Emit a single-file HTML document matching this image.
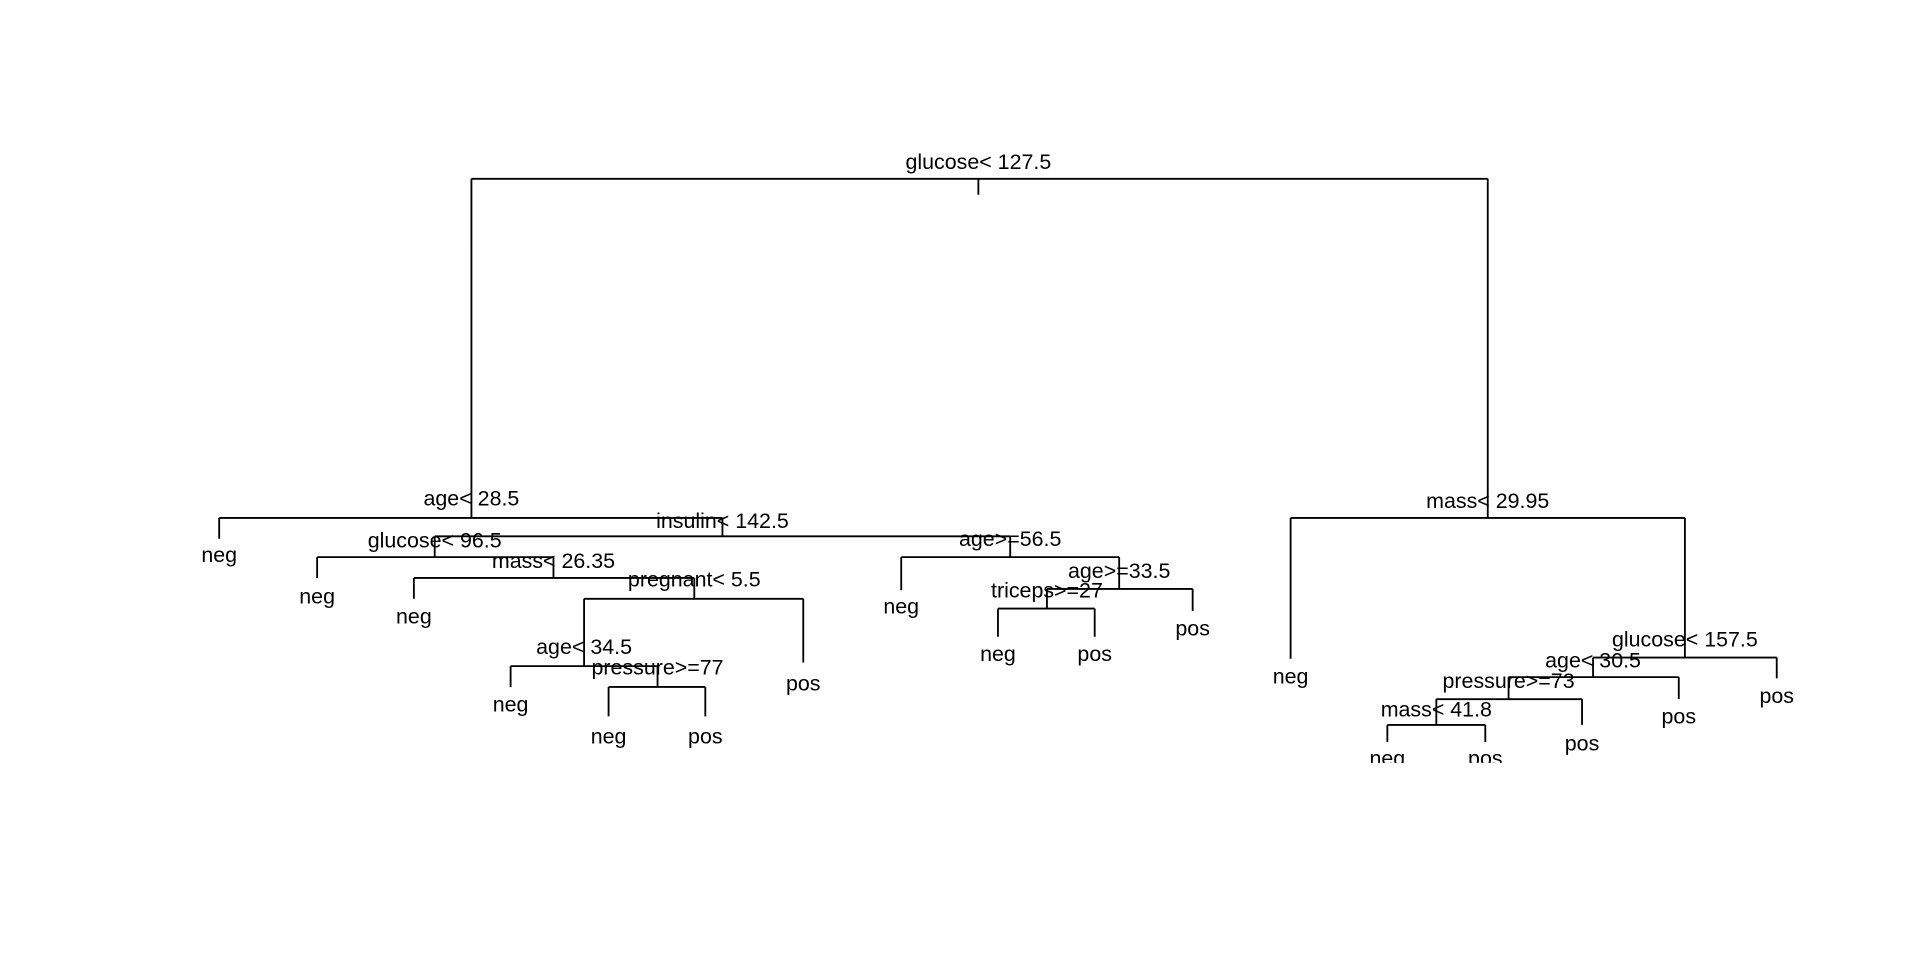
<!DOCTYPE html>
<html><head><meta charset="utf-8"><style>
html,body{margin:0;padding:0;background:#fff;width:1920px;height:960px;overflow:hidden}
svg text{font-family:"Liberation Sans",Arial,sans-serif;font-size:17.5px;fill:#000;text-anchor:middle}
</style></head><body>
<svg width="1920" height="960" viewBox="0 0 1568 784" xmlns="http://www.w3.org/2000/svg">
<defs><clipPath id="c"><rect x="0" y="125" width="1568" height="498"/></clipPath></defs>
<g clip-path="url(#c)">
<g stroke="#000" stroke-width="1.5" fill="none">
<path d="M385 146H1215M799 146V159M385 146V423M1215 146V423"/>
<path d="M179 423H590M179 423V440M590 423V438"/>
<path d="M355 438H825M355 438V455M825 438V455"/>
<path d="M259 455H452M259 455V472M452 455V472"/>
<path d="M338 472H567M338 472V489M567 472V489"/>
<path d="M477 489H656M477 489V544M656 489V541"/>
<path d="M417 544H537M417 544V561M537 544V561"/>
<path d="M497 561H576M497 561V585M576 561V585"/>
<path d="M736 455H914M736 455V482M914 455V481"/>
<path d="M855 481H974M855 481V497M974 481V499"/>
<path d="M815 497H894M815 497V520M894 497V520"/>
<path d="M1054 423H1376M1054 423V538M1376 423V537"/>
<path d="M1301 537H1451M1301 537V553M1451 537V554"/>
<path d="M1232 553H1371M1232 553V571M1371 553V571"/>
<path d="M1173 571H1292M1173 571V592M1292 571V592"/>
<path d="M1133 592H1213M1133 592V606M1213 592V606"/>
</g>
<text x="799" y="138">glucose&lt; 127.5</text>
<text x="385" y="413">age&lt; 28.5</text>
<text x="179" y="459">neg</text>
<text x="590" y="431">insulin&lt; 142.5</text>
<text x="355" y="447">glucose&lt; 96.5</text>
<text x="259" y="493">neg</text>
<text x="452" y="464">mass&lt; 26.35</text>
<text x="338" y="509">neg</text>
<text x="567" y="479">pregnant&lt; 5.5</text>
<text x="477" y="534">age&lt; 34.5</text>
<text x="417" y="581">neg</text>
<text x="537" y="551">pressure&gt;=77</text>
<text x="497" y="607">neg</text>
<text x="576" y="607">pos</text>
<text x="656" y="564">pos</text>
<text x="825" y="446">age&gt;=56.5</text>
<text x="736" y="501">neg</text>
<text x="914" y="472">age&gt;=33.5</text>
<text x="855" y="488">triceps&gt;=27</text>
<text x="815" y="540">neg</text>
<text x="894" y="540">pos</text>
<text x="974" y="519">pos</text>
<text x="1215" y="415">mass&lt; 29.95</text>
<text x="1054" y="558">neg</text>
<text x="1376" y="528">glucose&lt; 157.5</text>
<text x="1301" y="545">age&lt; 30.5</text>
<text x="1451" y="574">pos</text>
<text x="1232" y="562">pressure&gt;=73</text>
<text x="1371" y="591">pos</text>
<text x="1173" y="585">mass&lt; 41.8</text>
<text x="1292" y="613">pos</text>
<text x="1133" y="625">neg</text>
<text x="1213" y="625">pos</text>
</g>
</svg>
</body></html>
